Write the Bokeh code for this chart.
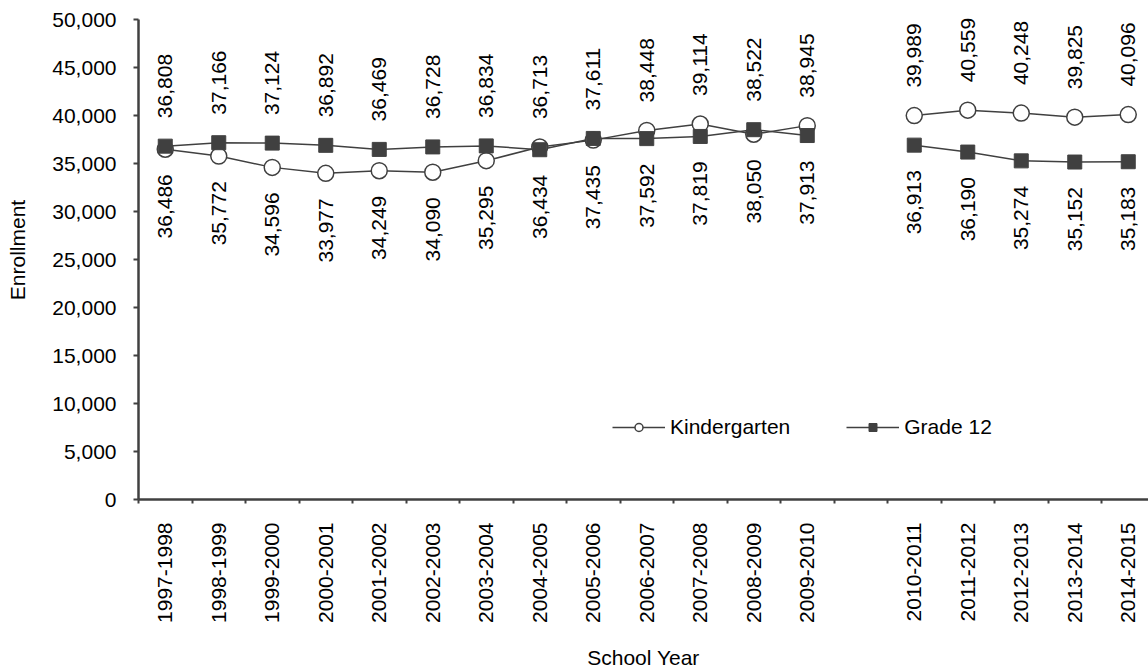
import math
from bokeh.plotting import figure
from bokeh.models import (ColumnDataSource, FixedTicker, Range1d, Legend, LegendItem,
                          NumeralTickFormatter)
from bokeh.core.properties import value
from bokeh.embed import file_html
from bokeh.resources import INLINE

# ---------------- data ----------------
school_years = ["1997-1998", "1998-1999", "1999-2000", "2000-2001", "2001-2002",
                "2002-2003", "2003-2004", "2004-2005", "2005-2006", "2006-2007",
                "2007-2008", "2008-2009", "2009-2010",
                "2010-2011", "2011-2012", "2012-2013", "2013-2014", "2014-2015"]
kindergarten = [36486, 35772, 34596, 33977, 34249, 34090, 35295, 36713, 37435, 38448,
                39114, 38050, 38945, 39989, 40559, 40248, 39825, 40096]
grade12 = [36808, 37166, 37124, 36892, 36469, 36728, 36834, 36434, 37611, 37592,
           37819, 38522, 37913, 36913, 36190, 35274, 35152, 35183]
gap_after = "2009-2010"          # one empty slot on the axis after this year
y_ticks = [0, 5000, 10000, 15000, 20000, 25000, 30000, 35000, 40000, 45000, 50000]

# ---------------- layout helpers ----------------
FONT = "Liberation Sans"
FS = "21px"
DARK = "#404040"
gap_idx = school_years.index(gap_after)
slots = [i + (1 if i > gap_idx else 0) for i in range(len(school_years))]
n_slots = len(school_years) + 1

# line data with a break at the empty slot
line_x, k_line, g_line = [], [], []
for i, s in enumerate(slots):
    if i == gap_idx + 1:
        line_x.append(s - 1)
        k_line.append(float("nan"))
        g_line.append(float("nan"))
    line_x.append(s)
    k_line.append(kindergarten[i])
    g_line.append(grade12[i])

line_src = ColumnDataSource(dict(x=line_x, k=k_line, g=g_line))
pt_src = ColumnDataSource(dict(x=slots, k=kindergarten, g=grade12))
top_vals = [max(a, b) for a, b in zip(kindergarten, grade12)]
bot_vals = [min(a, b) for a, b in zip(kindergarten, grade12)]
lab_src = ColumnDataSource(dict(
    x=slots, top=top_vals, bot=bot_vals,
    top_t=[f"{v:,}" for v in top_vals], bot_t=[f"{v:,}" for v in bot_vals]))

W, H = 1148, 671
left_border = 138
frame_w = W - left_border
slot_px = 53.5
px_per_unit = 480 / 50000
frame_h = 499

p = figure(width=W, height=H, output_backend="svg", toolbar_location=None,
           x_range=Range1d(-0.5, -0.5 + frame_w / slot_px),
           y_range=Range1d(0, frame_h / px_per_unit),
           min_border_left=left_border, min_border_right=0, min_border_top=0,
           min_border_bottom=H - frame_h)
p.outline_line_color = None
p.xgrid.visible = False
p.ygrid.visible = False
p.background_fill_color = "white"
p.border_fill_color = "white"

# lines and markers
kl = p.line("x", "k", source=line_src, line_color=DARK, line_width=1.5)
gl = p.line("x", "g", source=line_src, line_color=DARK, line_width=1.5)
ks = p.scatter("x", "k", source=pt_src, marker="circle", size=16,
               fill_color="white", line_color=DARK, line_width=1.5)
gs = p.scatter("x", "g", source=pt_src, marker="square", size=14,
               fill_color=DARK, line_color=DARK, line_width=1)

# data labels
p.text("x", "top", text="top_t", source=lab_src, angle=math.pi / 2,
       text_align="left", text_baseline="middle", y_offset=-28,
       text_font=value(FONT), text_font_size=FS, text_color="black")
p.text("x", "bot", text="bot_t", source=lab_src, angle=math.pi / 2,
       text_align="right", text_baseline="middle", y_offset=25,
       text_font=value(FONT), text_font_size=FS, text_color="black")

# x axis
xa = p.xaxis[0]
xa.ticker = FixedTicker(ticks=slots, minor_ticks=[k - 0.5 for k in range(n_slots + 1)])
xa.major_label_overrides = {s: lab for s, lab in zip(slots, school_years)}
xa.major_label_orientation = math.pi / 2
xa.major_tick_out = 0
xa.major_tick_in = 0
xa.minor_tick_out = 4
xa.minor_tick_in = 0
xa.minor_tick_line_color = DARK
xa.minor_tick_line_width = 2
xa.axis_line_color = DARK
xa.axis_line_width = 2.5
xa.major_label_standoff = 19
xa.major_label_text_font = FONT
xa.major_label_text_font_size = FS
xa.major_label_text_color = "black"
xa.axis_label = "School Year"
xa.axis_label_text_font = FONT
xa.axis_label_text_font_size = FS
xa.axis_label_text_font_style = "normal"
xa.axis_label_text_color = "black"
xa.axis_label_standoff = 20

# y axis
ya = p.yaxis[0]
ya.ticker = FixedTicker(ticks=y_ticks)
ya.formatter = NumeralTickFormatter(format="0,0")
ya.bounds = (0, 50000)
ya.major_tick_out = 5
ya.major_tick_in = 0
ya.minor_tick_out = 0
ya.minor_tick_in = 0
ya.major_tick_line_color = DARK
ya.major_tick_line_width = 2
ya.axis_line_color = DARK
ya.axis_line_width = 2.5
ya.major_label_standoff = 17
ya.major_label_text_font = FONT
ya.major_label_text_font_size = FS
ya.major_label_text_color = "black"
ya.axis_label = "Enrollment"
ya.axis_label_text_font = FONT
ya.axis_label_text_font_size = FS
ya.axis_label_text_font_style = "normal"
ya.axis_label_text_color = "black"
ya.axis_label_standoff = 20

legend = Legend(items=[LegendItem(label="Kindergarten", renderers=[kl, ks]),
                       LegendItem(label="Grade 12", renderers=[gl, gs])],
                orientation="horizontal", location=(474, 60),
                border_line_color=None, background_fill_alpha=0,
                glyph_width=53, glyph_height=20, label_height=20,
                label_text_font=FONT, label_text_font_size=FS,
                label_text_color="black",
                spacing=56, padding=0, margin=0, label_standoff=5)
p.add_layout(legend)

open("out.html", "w").write(file_html(p, INLINE))
